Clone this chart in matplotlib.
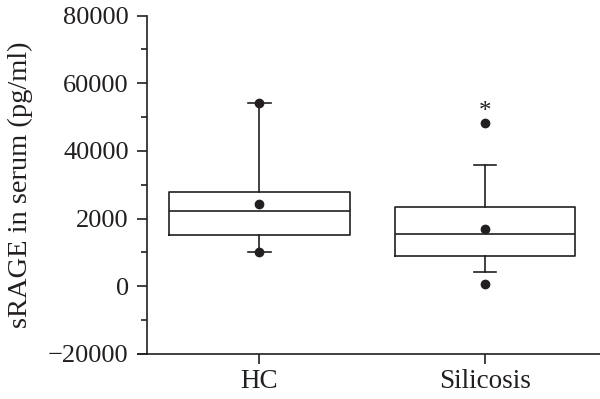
import matplotlib
matplotlib.use('Agg')
from matplotlib import pyplot as plt
from matplotlib.ticker import MultipleLocator

plt.rcParams['font.family'] = 'Liberation Serif'

groups = ['HC', 'Silicosis']
q1 = [15200, 8900]
medians = [22300, 15450]
q3 = [27950, 23400]
means = [24400, 16900]
whisker_lo = [10000, 4100]
whisker_hi = [54200, 35800]
fliers = [[10000, 54200], [600, 48150]]

yticks = [-20000, 0, 20000, 40000, 60000, 80000]
ytick_labels = ['\u221220000', '0', '2000', '40000', '60000', '80000']

stats = []
for i, g in enumerate(groups):
    stats.append({'label': g, 'q1': q1[i], 'med': medians[i], 'q3': q3[i],
                  'mean': means[i], 'whislo': whisker_lo[i],
                  'whishi': whisker_hi[i], 'fliers': fliers[i]})

fig = plt.figure(figsize=(6, 3.99), dpi=100)
ax = fig.add_axes([0.2445, 0.1128, 0.7555, 0.848])

lw = 1.2
ax.bxp(stats, positions=[1, 2], widths=0.8, capwidths=0.1,
       showmeans=True, showfliers=True,
       boxprops=dict(color='#231f20', linewidth=lw),
       medianprops=dict(color='#231f20', linewidth=lw),
       whiskerprops=dict(color='#231f20', linewidth=lw),
       capprops=dict(color='#231f20', linewidth=lw),
       meanprops=dict(marker='o', markerfacecolor='#231f20',
                      markeredgecolor='#231f20', markersize=6),
       flierprops=dict(marker='o', markerfacecolor='#231f20',
                       markeredgecolor='#231f20', markersize=6))

# significance mark
ax.text(2, 51500, '*', ha='center', va='center', fontsize=18, color='#231f20')

ax.set_xlim(0.5, 2.51)
ax.set_ylim(-20000, 80000)
ax.set_yticks(yticks)
ax.set_yticklabels(ytick_labels)
ax.yaxis.set_minor_locator(MultipleLocator(10000))
ax.set_xticks([1, 2])
ax.set_xticklabels(groups)

for s in ['top', 'right']:
    ax.spines[s].set_visible(False)
for s in ['left', 'bottom']:
    ax.spines[s].set_linewidth(lw)
    ax.spines[s].set_color('#231f20')

ax.tick_params(axis='y', which='major', length=7, width=lw, pad=6,
               color='#231f20', labelsize=19, labelcolor='#231f20')
ax.tick_params(axis='x', which='major', length=7, width=lw, pad=4,
               color='#231f20', labelsize=19.5, labelcolor='#231f20')
ax.tick_params(axis='y', which='minor', length=4.5, width=lw, color='#231f20')
ax.set_ylabel('sRAGE in serum (pg/ml)', fontsize=20.5, color='#231f20', labelpad=11)

# x axis line runs a bit past the y axis
ax.plot([-0.02, 0], [0, 0], transform=ax.transAxes, clip_on=False,
        color='#231f20', linewidth=lw)

fig.savefig('out.png', dpi=100)
